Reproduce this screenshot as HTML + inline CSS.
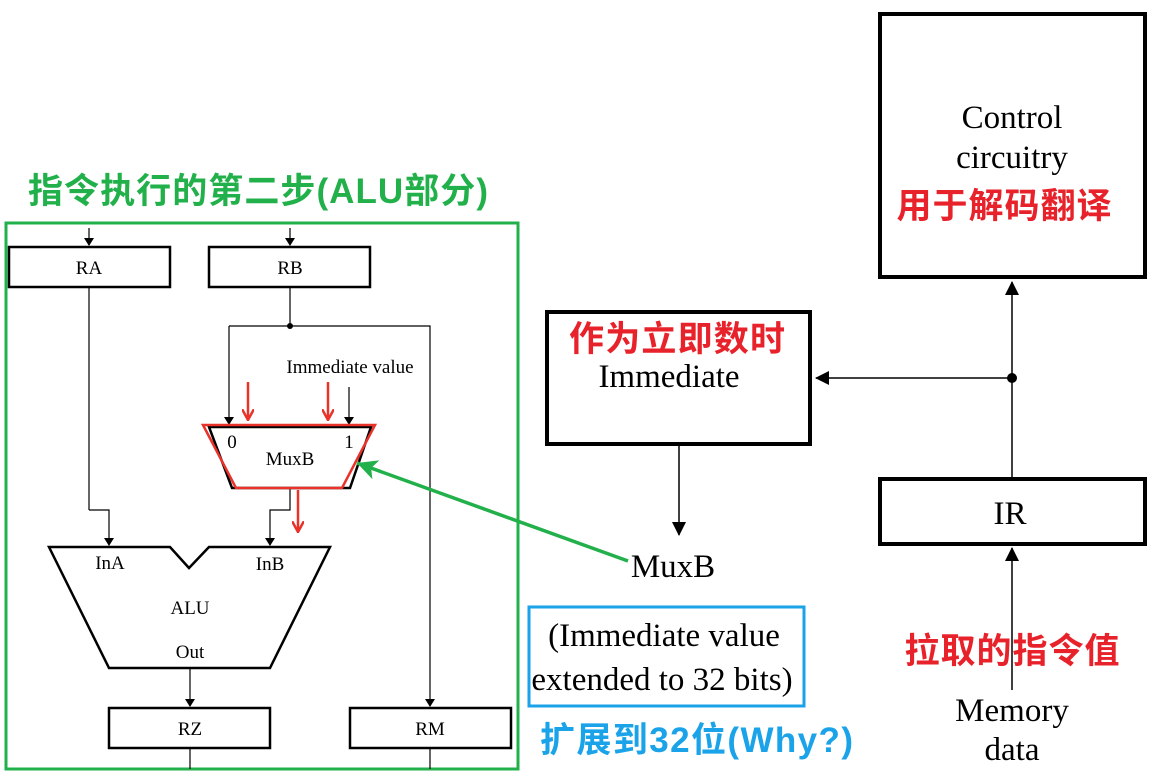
<!DOCTYPE html>
<html><head><meta charset="utf-8"><style>
body{margin:0;background:#fff;}
svg{display:block;}
.s{font-family:"Liberation Serif",serif;fill:#000;}
.c{font-family:"Liberation Sans","Noto Sans CJK SC",sans-serif;font-weight:bold;}
</style></head><body>
<svg width="1157" height="780" viewBox="0 0 1157 780" xmlns="http://www.w3.org/2000/svg">
<defs>
<marker id="a" markerWidth="8" markerHeight="10" refX="7" refY="5" orient="auto" markerUnits="userSpaceOnUse"><path d="M0,0 L8,5 L0,10 Z" fill="#000"/></marker>
<marker id="ab" markerWidth="14" markerHeight="14" refX="13" refY="7" orient="auto" markerUnits="userSpaceOnUse"><path d="M0,0 L14,7 L0,14 Z" fill="#000"/></marker>
<marker id="r" markerWidth="12" markerHeight="12" refX="11" refY="6" orient="auto" markerUnits="userSpaceOnUse"><path d="M0,0 L11,6 L0,12" fill="none" stroke="#e8322a" stroke-width="2.5"/></marker>
<marker id="g" markerWidth="22" markerHeight="20" refX="20" refY="10" orient="auto" markerUnits="userSpaceOnUse"><path d="M0,0 L20,10 L0,20 L5,10 Z" fill="#22b04b"/></marker>
</defs>

<text x="28" y="203" class="c" font-size="35" fill="#22b04b" textLength="460">指令执行的第二步(ALU部分)</text>
<rect x="6" y="223" width="512" height="546" fill="none" stroke="#22b04b" stroke-width="3"/>

<g stroke="#000" fill="none" stroke-width="1.2">
<line x1="89" y1="228" x2="89" y2="245" marker-end="url(#a)"/>
<line x1="290" y1="228" x2="290" y2="245" marker-end="url(#a)"/>
<line x1="89" y1="288" x2="89" y2="510"/><polyline points="89,510 109,510 109,545" marker-end="url(#a)"/>
<line x1="290" y1="288" x2="290" y2="326"/>
<polyline points="229,326 430,326 430,706" marker-end="url(#a)"/>
<line x1="229" y1="326" x2="229" y2="424" marker-end="url(#a)"/>
<line x1="349" y1="387" x2="349" y2="424" marker-end="url(#a)"/>
<polyline points="290,489 290,510 270,510 270,545" marker-end="url(#a)"/>
<line x1="190" y1="669" x2="190" y2="706" marker-end="url(#a)"/>
<line x1="190" y1="749" x2="190" y2="769"/>
<line x1="430" y1="749" x2="430" y2="769"/>
</g>
<circle cx="290" cy="326" r="3" fill="#000"/>

<g stroke="#000" stroke-width="2.5" fill="#fff">
<rect x="9" y="247" width="161" height="40"/>
<rect x="209" y="247" width="161" height="40"/>
<rect x="109" y="708" width="161" height="40"/>
<rect x="350" y="708" width="161" height="40"/>
<polygon points="209,427 371,427 350,488 232,488"/>
<polygon points="49,547 170,547 189,568 209,547 330,547 270,668 109,668" fill="none"/>
</g>
<polygon points="203,425 375,425 342,488 236,488" fill="none" stroke="#e8322a" stroke-width="2.5"/>
<g stroke="#e8322a" stroke-width="2.5">
<line x1="248" y1="382" x2="248" y2="420" marker-end="url(#r)"/>
<line x1="328" y1="382" x2="328" y2="420" marker-end="url(#r)"/>
<line x1="298" y1="490" x2="298" y2="532" marker-end="url(#r)"/>
</g>
<g class="s" font-size="19" text-anchor="middle">
<text x="89" y="274">RA</text><text x="290" y="274">RB</text>
<text x="190" y="735">RZ</text><text x="430" y="735">RM</text>
<text x="290" y="465">MuxB</text>
<text x="232" y="448">0</text><text x="349" y="448">1</text>
<text x="110" y="569">InA</text><text x="270" y="570">InB</text>
<text x="190" y="614">ALU</text><text x="190" y="658">Out</text>
<text x="350" y="373">Immediate value</text>
</g>

<line x1="628" y1="561" x2="357" y2="463" stroke="#22b04b" stroke-width="3.5" marker-end="url(#g)"/>

<rect x="880" y="14" width="265" height="263" fill="none" stroke="#000" stroke-width="4"/>
<g class="s" font-size="33" text-anchor="middle">
<text x="1012" y="128">Control</text><text x="1012" y="168">circuitry</text>
</g>
<text x="1004" y="218" class="c" font-size="35" fill="#e8222a" text-anchor="middle" textLength="215">用于解码翻译</text>

<rect x="547" y="312" width="263" height="132" fill="none" stroke="#000" stroke-width="4"/>
<text x="677" y="351" class="c" font-size="35" fill="#e8222a" text-anchor="middle" textLength="216">作为立即数时</text>
<text x="669" y="387" class="s" font-size="33" text-anchor="middle">Immediate</text>

<rect x="880" y="479" width="265" height="65" fill="none" stroke="#000" stroke-width="4"/>
<text x="1010" y="524" class="s" font-size="33" text-anchor="middle">IR</text>

<g stroke="#000" stroke-width="1.5" fill="none">
<line x1="1012" y1="477" x2="1012" y2="282" marker-end="url(#ab)"/>
<line x1="1012" y1="378" x2="816" y2="378" marker-end="url(#ab)"/>
<line x1="679" y1="446" x2="679" y2="535" marker-end="url(#ab)"/>
<line x1="1012" y1="690" x2="1012" y2="548" marker-end="url(#ab)"/>
</g>
<circle cx="1012" cy="378" r="5" fill="#000"/>
<text x="1012" y="663" class="c" font-size="35" fill="#e8222a" text-anchor="middle" textLength="215">拉取的指令值</text>
<g class="s" font-size="33" text-anchor="middle">
<text x="1012" y="721">Memory</text><text x="1012" y="760">data</text>
<text x="673" y="577">MuxB</text>
<text x="664" y="646">(Immediate value</text>
<text x="662" y="690">extended to 32 bits)</text>
</g>
<rect x="529" y="607" width="275" height="99" fill="none" stroke="#1aa3e8" stroke-width="3"/>
<text x="540" y="752" class="c" font-size="35" fill="#1aa3e8" textLength="313">扩展到32位(Why?)</text>
</svg>
</body></html>
